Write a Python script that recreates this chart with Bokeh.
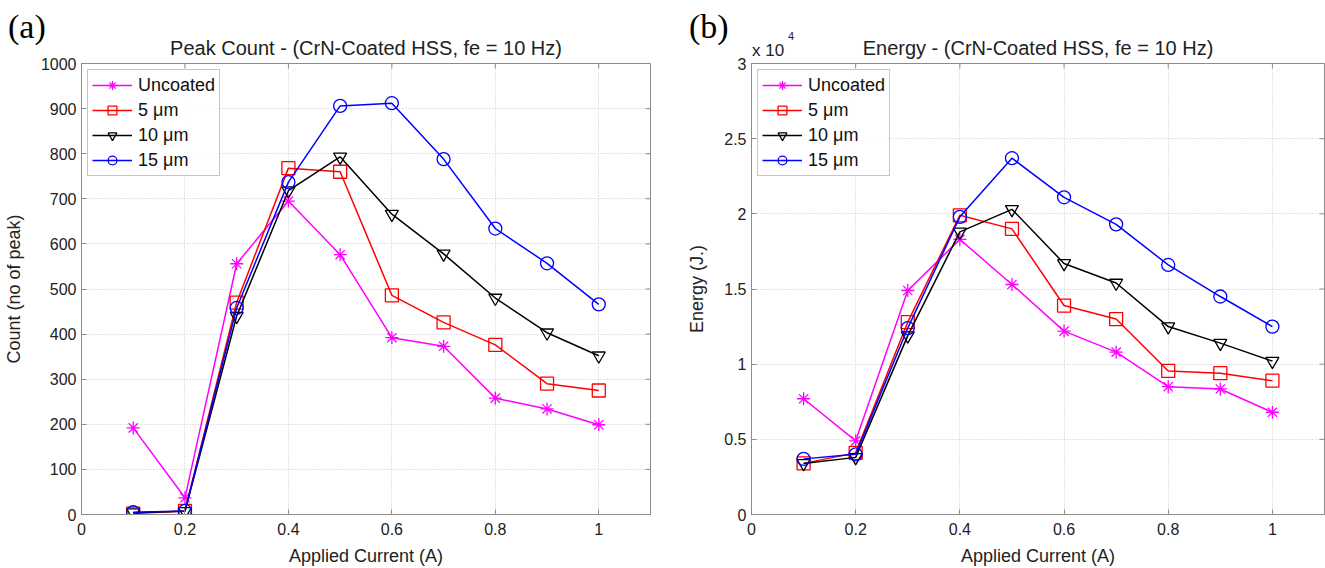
import math
from bokeh.plotting import figure
from bokeh.layouts import row
from bokeh.models import Div, Legend, LegendItem, FixedTicker
from bokeh.embed import file_html
from bokeh.resources import INLINE

current = [0.1, 0.2, 0.3, 0.4, 0.5, 0.6, 0.7, 0.8, 0.9, 1.0]
series_names = ["Uncoated", "5 \u03bcm", "10 \u03bcm", "15 \u03bcm"]

count_uncoated = [192, 37, 556, 695, 576, 392, 373, 258, 234, 199]
count_5um = [2, 8, 470, 768, 760, 486, 426, 376, 290, 275]
count_10um = [4, 7, 440, 718, 793, 666, 578, 480, 403, 352]
count_15um = [5, 8, 458, 737, 906, 912, 788, 634, 557, 466]

# energy in units of 1e4 J
energy_uncoated = [0.77, 0.49, 1.49, 1.83, 1.53, 1.22, 1.08, 0.85, 0.835, 0.68]
energy_5um = [0.34, 0.41, 1.28, 1.99, 1.90, 1.39, 1.30, 0.955, 0.94, 0.89]
energy_10um = [0.34, 0.38, 1.19, 1.88, 2.03, 1.67, 1.54, 1.25, 1.14, 1.02]
energy_15um = [0.37, 0.40, 1.24, 1.98, 2.37, 2.11, 1.93, 1.66, 1.45, 1.25]

x_range_max = 1.1
x_ticks = [0, 0.2, 0.4, 0.6, 0.8, 1.0]
count_ticks = [0, 100, 200, 300, 400, 500, 600, 700, 800, 900, 1000]
energy_ticks = [0, 0.5, 1, 1.5, 2, 2.5, 3]

colors = ["#ff00ff", "#ff0000", "#000000", "#0000ff"]
markers = ["asterisk", "square", "inverted_triangle", "circle"]
FONT = "Liberation Sans"
AXIS_GREY = "#8c8c8c"


def make_fig(title, ylabel, yrange, yticks, width, left, right, series):
    p = figure(width=width, height=568, x_range=(0, x_range_max), y_range=yrange,
               output_backend="svg", toolbar_location=None,
               min_border_left=left, min_border_right=right,
               min_border_top=63, min_border_bottom=54)
    p.title.text = title
    p.title.align = "center"
    p.title.text_font = FONT
    p.title.text_font_size = "20px"
    p.title.text_font_style = "normal"
    p.title.text_color = "#222222"
    p.title.offset = 0
    p.title.standoff = 9
    p.outline_line_color = AXIS_GREY
    p.outline_line_width = 1
    p.background_fill_color = "white"
    for ax in (p.xaxis[0], p.yaxis[0]):
        ax.axis_line_color = AXIS_GREY
        ax.major_tick_line_color = AXIS_GREY
        ax.minor_tick_line_color = None
        ax.major_tick_in = 5
        ax.major_tick_out = 0
        ax.major_label_text_font = FONT
        ax.major_label_text_font_size = "16px"
        ax.major_label_text_color = "#222222"
        ax.axis_label_text_font = FONT
        ax.axis_label_text_font_size = "18px"
        ax.axis_label_text_font_style = "normal"
        ax.axis_label_text_color = "#222222"
    p.xaxis.ticker = FixedTicker(ticks=x_ticks)
    p.yaxis.ticker = FixedTicker(ticks=yticks)
    p.xaxis.axis_label = "Applied Current (A)"
    p.yaxis.axis_label = ylabel
    p.xaxis.major_label_standoff = 8
    p.yaxis.major_label_standoff = 5
    p.xaxis.axis_label_standoff = 8
    p.yaxis.axis_label_standoff = 14
    p.grid.grid_line_color = "#c8c8c8"
    p.grid.grid_line_dash = "1 2"

    # inward ticks on the top and right edges of the box (half clipped by the frame)
    p.scatter(x_ticks, [yrange[1]] * len(x_ticks), marker="dash", angle=math.pi / 2,
              size=10, line_color=AXIS_GREY, line_width=1)
    p.scatter([x_range_max] * len(yticks), yticks, marker="dash",
              size=10, line_color=AXIS_GREY, line_width=1)

    items = []
    for name, ys, c, m in zip(series_names, series, colors, markers):
        ln = p.line(current, ys, line_color=c, line_width=1.5)
        sc = p.scatter(current, ys, marker=m, size=13, line_color=c,
                       fill_color=None, line_width=1.3)
        items.append(LegendItem(label=name, renderers=[ln, sc]))
    leg = Legend(items=items, location="top_left")
    leg.label_text_font = FONT
    leg.label_text_font_size = "18px"
    leg.label_text_color = "#111111"
    leg.border_line_color = AXIS_GREY
    leg.margin = 6
    leg.padding = 4
    leg.spacing = 3
    leg.label_height = 22
    leg.glyph_height = 22
    leg.glyph_width = 40
    leg.label_standoff = 6
    p.add_layout(leg)
    return p


p1 = make_fig("Peak Count - (CrN-Coated HSS, fe = 10 Hz)", "Count (no of peak)",
              (0, 1000), count_ticks, 662, 78, 12,
              [count_uncoated, count_5um, count_10um, count_15um])
p2 = make_fig("Energy - (CrN-Coated HSS, fe = 10 Hz)", "Energy (J.)",
              (0, 3), energy_ticks, 663, 89, 1,
              [energy_uncoated, energy_5um, energy_10um, energy_15um])

serif = "font-family:'Liberation Serif';font-size:34px;color:#000;white-space:nowrap;"
sans = "font-family:'Liberation Sans';color:#222;white-space:nowrap;"
overlay_html = (
    '<span style="position:absolute;left:3px;top:-2px;' + serif + '">(a)</span>'
    '<span style="position:absolute;left:684px;top:-2px;' + serif + '">(b)</span>'
    '<span style="position:absolute;left:747px;top:34px;font-size:17px;' + sans + '">x 10</span>'
    '<span style="position:absolute;left:783px;top:24px;font-size:11px;' + sans + '">4</span>'
)
overlay = Div(text=overlay_html, width=1, height=1,
              styles={"position": "absolute", "left": "0px", "top": "0px",
                      "z-index": "10", "pointer-events": "none", "overflow": "visible"})

layout = row(p1, p2, overlay)
open("out.html", "w").write(file_html(layout, INLINE))
